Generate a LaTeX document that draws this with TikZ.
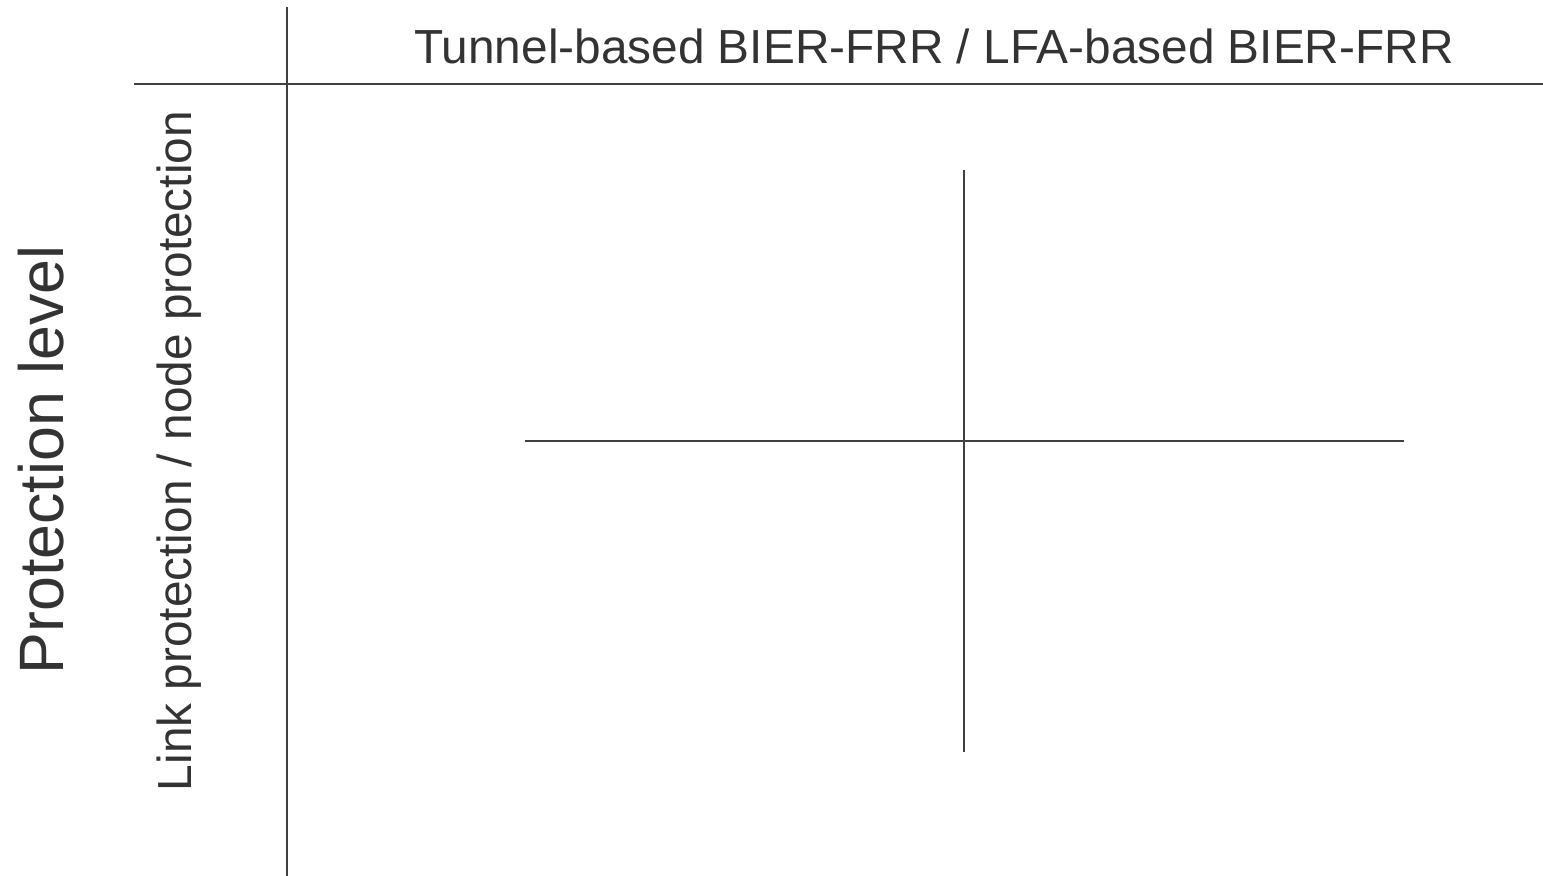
\documentclass[tikz,border=0pt]{standalone}
\usepackage{fontspec}
\setmainfont{Liberation Sans}
\usepackage{xcolor}
\usetikzlibrary{positioning,calc}
\definecolor{axisgray}{HTML}{404040}
\definecolor{textgray}{HTML}{333333}

\begin{document}
\begin{tikzpicture}[x=0.02cm, y=-0.02cm,
    axisline/.style={draw=axisgray, line width=1.2pt},
    headtext/.style={text=textgray, inner sep=0pt, font=\fontsize{27.2}{30}\selectfont},
    bigtext/.style={text=textgray, inner sep=0pt, font=\fontsize{35.7}{40}\selectfont}]
    \useasboundingbox (0,0) rectangle (1543,876);

    % axes
    \coordinate (vtop) at (287,7);
    \coordinate (vbot) at (287,876);
    \coordinate (hleft) at (134,84);
    \coordinate (hright) at (1543,84);
    \draw[axisline] (vtop) -- (vbot);
    \draw[axisline] (hleft) -- (hright);

    % labels
    \node[headtext, anchor=base] (method) at (934,63) {Tunnel-based BIER-FRR / LFA-based BIER-FRR};
    \node[headtext, anchor=base, rotate=90] (level) at (191,451) {Link protection / node protection};
    \node[bigtext, anchor=base, rotate=90] (title) at (63,460) {Protection level};

    % cross
    \coordinate (ctop) at (964,170);
    \coordinate (cbot) at (964,752);
    \coordinate (cleft) at (525,441);
    \coordinate (cright) at (1404,441);
    \draw[axisline] (ctop) -- (cbot);
    \draw[axisline] (cleft) -- (cright);
\end{tikzpicture}
\end{document}
